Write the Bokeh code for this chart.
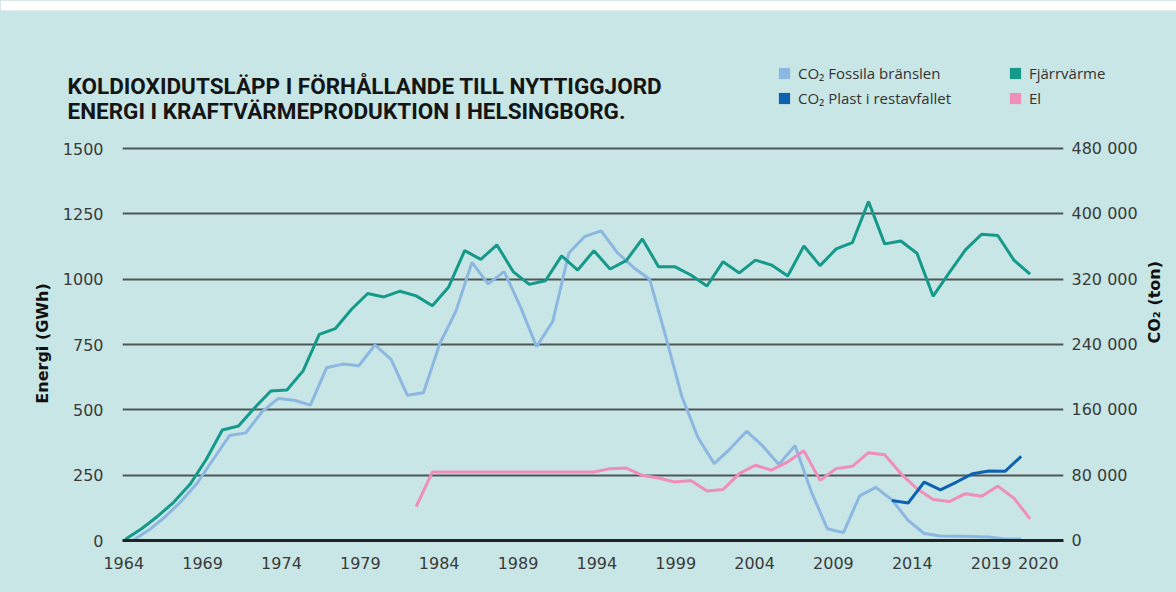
import math
from bokeh.plotting import figure
from bokeh.layouts import column
from bokeh.models import (ColumnDataSource, Range1d, LinearAxis, FixedTicker,
                          Legend, LegendItem, Label, BoxAnnotation)
from bokeh.transform import dodge
from bokeh.embed import file_html
from bokeh.resources import INLINE

# ---------------- data ----------------
YEARS = list(range(1964, 2021))
FJARRVARME = [5, 45, 93, 147, 215, 310, 423, 438, 508, 572, 576, 649, 789, 811, 885,
              945, 932, 954, 936, 898, 969, 1109, 1076, 1131, 1029, 980, 994, 1089, 1035,
              1109, 1039, 1071, 1154, 1048, 1048, 1016, 974, 1067, 1024, 1073, 1054, 1012,
              1127, 1052, 1116, 1140, 1297, 1135, 1146, 1099, 935, 1025, 1112, 1172, 1167,
              1073, 1019]

EL_YEARS = list(range(1982, 2021))
EL = [130, 262, 262, 262, 262, 262, 262, 262, 262, 262, 262, 262, 275, 277, 249, 239,
      224, 230, 189, 195, 256, 288, 269, 301, 343, 230, 275, 284, 336, 328, 256, 198,
      157, 149, 179, 169, 208, 162, 83]

CO2_FOSSIL_YEARS = list(range(1964, 2020))
CO2_FOSSIL = [0, 12800, 28800, 48000, 70400, 99800, 128600, 131800, 157400, 173800,
              171800, 165800, 211500, 216000, 214100, 239400, 221800, 177900, 180800,
              240600, 280300, 340500, 314200, 329300, 286400, 237400, 268200, 352000,
              372500, 379200, 352600, 334400, 320000, 249600, 176000, 125800, 94100,
              112600, 133800, 115800, 93100, 116200, 60200, 14400, 9600, 54700, 65000,
              49900, 24600, 8600, 5400, 5100, 4800, 4200, 1900, 1900]

CO2_PLAST_YEARS = list(range(2011, 2020))
CO2_PLAST = [49000, 45800, 71600, 62100, 71600, 81800, 85100, 84700, 103000]

LEFT_TICKS = [0, 250, 500, 750, 1000, 1250, 1500]
RIGHT_TICKS = [0, 80000, 160000, 240000, 320000, 400000, 480000]
RIGHT_TICK_LABELS = ["0", "80 000", "160 000", "240 000", "320 000", "400 000", "480 000"]
X_TICK_POS = [1964, 1969, 1974, 1979, 1984, 1989, 1994, 1999, 2004, 2009, 2014, 2019, 2022]
X_TICK_LABELS = ["1964", "1969", "1974", "1979", "1984", "1989", "1994", "1999",
                 "2004", "2009", "2014", "2019", "2020"]

TITLE_LINES = ["KOLDIOXIDUTSLÄPP I FÖRHÅLLANDE TILL NYTTIGGJORD",
               "ENERGI I KRAFTVÄRMEPRODUKTION I HELSINGBORG."]
LEGEND_LABELS = ["CO\u2082 Fossila bränslen", "Fjärrvärme", "CO\u2082 Plast i restavfallet", "El"]
Y_LABEL_LEFT = "Energi (GWh)"
Y_LABEL_RIGHT = "CO\u2082 (ton)"
TON_PER_GWH_AXIS = 320

# ---------------- style ----------------
BG = "#C8E6E5"
GRID = "#4f5656"
C_FOSSIL = "#8CB7E1"
C_FJARR = "#14998A"
C_PLAST = "#0C62B0"
C_EL = "#F08DBA"
TICK_COLOR = "#3a3a3a"
FONT = "DejaVu Sans"
NAN = float("nan")

W = 1176
HEAD_H = 136
MAIN_H = 592 - HEAD_H
X0, X1 = 1963.82, 2022.07
L0, L1 = 1963.92, 2023.59
Y1 = 1507.7
CO2_DODGE = 0.45

# ---------------- header (title + legend) ----------------
head = figure(width=W, height=HEAD_H, output_backend="svg", toolbar_location=None,
              x_range=Range1d(0, W), y_range=Range1d(HEAD_H, 0),
              x_axis_location=None, y_axis_location=None, min_border=0,
              background_fill_color=BG, border_fill_color=BG, outline_line_color=None,
              styles={"background-color": BG})
head.frame_align = False
head.grid.visible = False
head.add_layout(BoxAnnotation(top=0, bottom=10, fill_color="white", fill_alpha=1,
                              line_color="#d4d8d8", line_width=1))
for txt, base in zip(TITLE_LINES, [85, 110]):
    head.add_layout(Label(x=67, y=base, text=txt, text_font="Roboto",
                          text_font_size="22.5px", text_font_style="bold",
                          text_color="#151515", text_baseline="alphabetic"))

sw = []
for c in [C_FOSSIL, C_FJARR, C_PLAST, C_EL]:
    sw.append(head.quad(left=[NAN], right=[NAN], bottom=[NAN], top=[NAN],
                        fill_color=c, fill_alpha=1, line_color=None))
items = [LegendItem(label=lab, renderers=[r]) for lab, r in zip(LEGEND_LABELS, sw)]
legend = Legend(items=items, orientation="horizontal", ncols=2, location=(777, HEAD_H - 108),
                glyph_width=14, glyph_height=14, label_height=14, label_width=205,
                spacing=5, padding=0, margin=0, label_standoff=7,
                border_line_color=None, background_fill_alpha=0,
                label_text_font="Open Sans", label_text_font_size="15px",
                label_text_color="#333333")
head.add_layout(legend, "center")

# ---------------- main chart ----------------
p = figure(width=W, height=MAIN_H, output_backend="svg", toolbar_location=None,
           x_range=Range1d(X0, X1), y_range=Range1d(0, Y1),
           x_axis_location=None, y_axis_location="left",
           min_border_left=122, min_border_right=101, min_border_top=10,
           min_border_bottom=52, background_fill_color=BG, border_fill_color=BG,
           outline_line_color=None, styles={"background-color": BG})
p.frame_align = False

p.xgrid.visible = False
p.ygrid.ticker = FixedTicker(ticks=LEFT_TICKS)
p.ygrid.grid_line_color = GRID
p.ygrid.grid_line_width = 2

ya = p.yaxis[0]
ya.ticker = FixedTicker(ticks=LEFT_TICKS)
ya.axis_line_color = None
ya.major_tick_line_color = None
ya.minor_tick_line_color = None
ya.major_tick_out = 0
ya.major_label_standoff = 19
ya.major_label_text_font = FONT
ya.major_label_text_font_size = "16px"
ya.major_label_text_color = TICK_COLOR
ya.axis_label = Y_LABEL_LEFT
ya.axis_label_text_font = FONT
ya.axis_label_text_font_size = "16px"
ya.axis_label_text_font_style = "bold"
ya.axis_label_text_color = "#111111"
ya.axis_label_standoff = 8

p.extra_y_ranges = {"co2": Range1d(0, Y1 * TON_PER_GWH_AXIS)}
ra = LinearAxis(y_range_name="co2", ticker=FixedTicker(ticks=RIGHT_TICKS),
                major_label_overrides=dict(zip(RIGHT_TICKS, RIGHT_TICK_LABELS)))
ra.axis_line_color = None
ra.major_tick_line_color = None
ra.minor_tick_line_color = None
ra.major_tick_out = 0
ra.major_label_standoff = 8
ra.major_label_text_font = FONT
ra.major_label_text_font_size = "16px"
ra.major_label_text_color = TICK_COLOR
ra.axis_label = Y_LABEL_RIGHT
ra.axis_label_text_font = FONT
ra.axis_label_text_font_size = "16px"
ra.axis_label_text_font_style = "bold"
ra.axis_label_text_color = "#111111"
ra.axis_label_standoff = 14
ra.axis_label_orientation = math.pi / 2
p.add_layout(ra, "right")

p.extra_x_ranges = {"ticks": Range1d(L0, L1)}
xa = LinearAxis(x_range_name="ticks", ticker=FixedTicker(ticks=X_TICK_POS),
                major_label_overrides=dict(zip(X_TICK_POS, X_TICK_LABELS)))
xa.axis_line_color = "#222222"
xa.axis_line_width = 3
xa.major_tick_line_color = None
xa.minor_tick_line_color = None
xa.major_tick_out = 0
xa.major_label_standoff = 16
xa.major_label_text_font = FONT
xa.major_label_text_font_size = "16px"
xa.major_label_text_color = TICK_COLOR
p.add_layout(xa, "below")

src_fj = ColumnDataSource(dict(year=YEARS, val=FJARRVARME))
src_el = ColumnDataSource(dict(year=EL_YEARS, val=EL))
src_fo = ColumnDataSource(dict(year=CO2_FOSSIL_YEARS, val=CO2_FOSSIL))
src_pl = ColumnDataSource(dict(year=CO2_PLAST_YEARS, val=CO2_PLAST))

p.line(x=dodge("year", CO2_DODGE), y="val", source=src_fo, y_range_name="co2",
       line_color=C_FOSSIL, line_width=3)
p.line(x="year", y="val", source=src_el, line_color=C_EL, line_width=3)
p.line(x="year", y="val", source=src_fj, line_color=C_FJARR, line_width=3)
p.line(x=dodge("year", CO2_DODGE), y="val", source=src_pl, y_range_name="co2",
       line_color=C_PLAST, line_width=3)

layout = column(head, p, spacing=0, styles={"background-color": BG})
open("out.html", "w").write(file_html(layout, INLINE))
